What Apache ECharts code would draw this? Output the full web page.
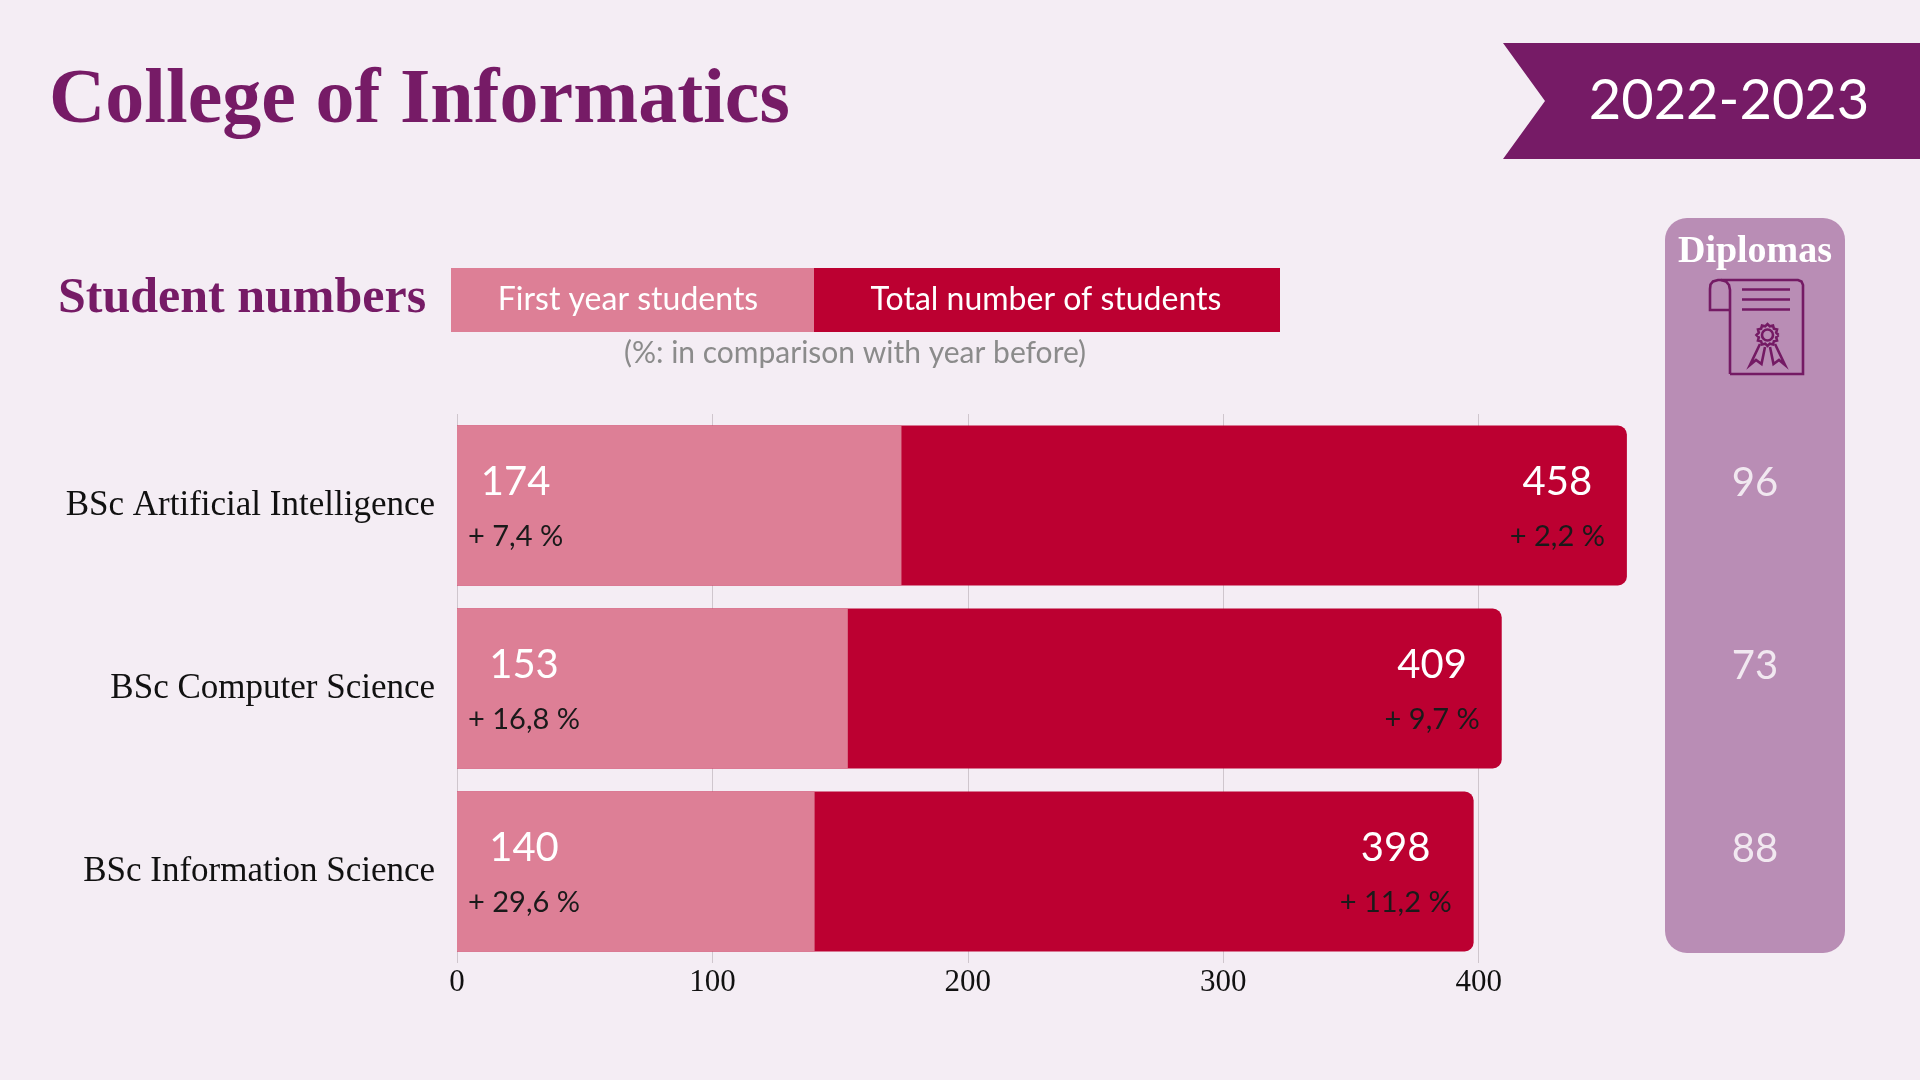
<!DOCTYPE html>
<html>
<head>
<meta charset="utf-8">
<title>College of Informatics</title>
<script src="https://cdn.jsdelivr.net/npm/echarts@6/dist/echarts.min.js"></script>
<style>
    html, body {margin: 0; padding: 0; background: #f4edf4;}
    #chart {width: 1920px; height: 1080px;}
</style>
</head>
<body>
<div id="chart"></div>
<script>
    // data
    var programmes = ['BSc Artificial Intelligence', 'BSc Computer Science', 'BSc Information Science'];
    var firstYear = [174, 153, 140];
    var firstYearChange = [7.4, 16.8, 29.6];
    var totalStudents = [458, 409, 398];
    var totalChange = [2.2, 9.7, 11.2];
    var diplomas = [96, 73, 88];
    var xTicks = [0, 100, 200, 300, 400];
    var seriesNames = ['First year students', 'Total number of students'];

    var serif = '"Liberation Serif", "DejaVu Serif", serif';
    var sans = 'Lato, "Open Sans", sans-serif';
    var purple = '#761b66', pink = '#dd7f96', red = '#bc0031', mauve = '#b98db5';

    function pct(v) {
        return '+ ' + String(v).replace('.', ',') + ' %';
    }

    function richLabel(values, changes) {
        return function (p) {
            return '{v|' + values[p.dataIndex] + '}\n{p|' + pct(changes[p.dataIndex]) + '}';
        };
    }

    var rich = {
        v: {fontFamily: sans, fontSize: 40, color: '#ffffff', lineHeight: 55, align: 'center'},
        p: {fontFamily: sans, fontSize: 29, color: '#1a1a1a', lineHeight: 55, align: 'center'}
    };

    // small scroll icon for the diplomas column
    function diplomaIcon() {
        var st = {stroke: '#741a64', lineWidth: 2.6, fill: null};
        var els = [
            {type: 'polyline', shape: {points: [[1730, 374], [1803, 374], [1803, 285], [1801.5, 281.5], [1798, 280], [1718, 280], [1713, 281.5], [1710.5, 284.5], [1710, 289], [1710, 310], [1730, 310]]}, style: st},
            {type: 'polyline', shape: {points: [[1730, 374], [1730, 290], [1729, 285], [1726, 281.5], [1721, 280]]}, style: st},
            {type: 'line', shape: {x1: 1742, y1: 289.5, x2: 1790, y2: 289.5}, style: st},
            {type: 'line', shape: {x1: 1742, y1: 299.5, x2: 1790, y2: 299.5}, style: st},
            {type: 'line', shape: {x1: 1742, y1: 309.5, x2: 1790, y2: 309.5}, style: st},
            {type: 'circle', shape: {cx: 1767.5, cy: 335, r: 5.5}, style: st},
            {type: 'polyline', shape: {points: [[1760, 344], [1750, 365], [1756, 360], [1761.5, 364], [1765, 347]]}, style: st},
            {type: 'polyline', shape: {points: [[1775, 344], [1785, 365], [1779, 360], [1773.5, 364], [1770, 347]]}, style: st}
        ];
        var pts = [];
        for (var i = 0; i <= 24; i++) {
            var a = i / 24 * Math.PI * 2;
            var r = i % 2 ? 9 : 11;
            pts.push([1767.5 + r * Math.cos(a), 335 + r * Math.sin(a)]);
        }
        els.push({type: 'polyline', shape: {points: pts}, style: st});
        return els;
    }

    var graphics = [
        {type: 'text', left: 49, top: 63, style: {text: 'College of Informatics', font: 'bold 78px ' + serif, fill: purple}},
        {type: 'polygon', shape: {points: [[1503, 43], [1920, 43], [1920, 159], [1503, 159], [1545, 101]]}, style: {fill: purple}},
        {type: 'text', x: 1729, y: 101, style: {text: '2022-2023', font: '56px ' + sans, fill: '#ffffff', align: 'center', verticalAlign: 'middle'}},
        {type: 'text', x: 58, y: 299, style: {text: 'Student numbers', font: 'bold 50px ' + serif, fill: purple, verticalAlign: 'middle'}},
        {type: 'rect', shape: {x: 451, y: 268, width: 363, height: 64}, style: {fill: pink}},
        {type: 'rect', shape: {x: 814, y: 268, width: 466, height: 64}, style: {fill: red}},
        {type: 'text', x: 628, y: 300, style: {text: seriesNames[0], font: '32px ' + sans, fill: '#ffffff', align: 'center', verticalAlign: 'middle'}},
        {type: 'text', x: 1046, y: 300, style: {text: seriesNames[1], font: '32px ' + sans, fill: '#ffffff', align: 'center', verticalAlign: 'middle'}},
        {type: 'text', x: 855, y: 353, style: {text: '(%: in comparison with year before)', font: '30px ' + sans, fill: '#8b8b8b', align: 'center', verticalAlign: 'middle'}},
        {type: 'rect', z: -10, shape: {x: 1665, y: 218, width: 180, height: 735, r: 22}, style: {fill: mauve}},
        {type: 'text', x: 1755, y: 252, style: {text: 'Diplomas', font: 'bold 38px ' + serif, fill: '#ffffff', align: 'center', verticalAlign: 'middle'}}
    ].concat(diplomaIcon());

    var myChart = echarts.init(document.getElementById('chart'));
    var option = {
        backgroundColor: '#f4edf4',
        animation: false,
        graphic: graphics,
        grid: [
            {left: 457, right: 288, top: 414, bottom: 117},
            {left: 1665, width: 180, top: 414, bottom: 117}
        ],
        xAxis: [
            {
                type: 'value', min: 0, max: 460, interval: 100,
                axisLine: {show: false}, axisTick: {show: false},
                axisLabel: {
                    margin: 4, fontFamily: serif, fontSize: 31, color: '#111111',
                    showMaxLabel: false,
                    formatter: function (v) { return xTicks.indexOf(v) >= 0 ? String(v) : ''; }
                },
                splitLine: {show: true, showMaxLine: false, lineStyle: {color: '#cfc6cd', width: 1}}
            },
            {gridIndex: 1, type: 'value', min: 0, max: 1, show: false}
        ],
        yAxis: [
            {
                type: 'category', data: programmes, inverse: true,
                axisLine: {show: false}, axisTick: {show: false},
                axisLabel: {margin: 22, fontFamily: serif, fontSize: 35, color: '#111111'}
            },
            {gridIndex: 1, type: 'category', data: programmes, inverse: true, show: false}
        ],
        series: [
            {
                name: seriesNames[1], type: 'bar', data: totalStudents, barWidth: 160,
                itemStyle: {color: red, borderRadius: [0, 9, 9, 0]},
                label: {show: true, position: 'insideRight', distance: 22, offset: [0, 4], formatter: richLabel(totalStudents, totalChange), rich: rich}
            },
            {
                name: seriesNames[0], type: 'bar', data: firstYear, barWidth: 160, barGap: '-100%',
                itemStyle: {color: pink},
                label: {show: true, position: 'insideLeft', distance: 11, offset: [0, 4], formatter: richLabel(firstYear, firstYearChange), rich: rich}
            },
            {
                name: 'Diplomas', type: 'scatter', xAxisIndex: 1, yAxisIndex: 1,
                symbolSize: 1, itemStyle: {color: 'transparent'},
                data: diplomas.map(function (d, i) { return [0.5, i, d]; }),
                label: {
                    show: true, position: 'inside', offset: [0, -22],
                    fontFamily: sans, fontSize: 40, color: '#ffffff',
                    formatter: function (p) { return p.value[2]; }
                }
            }
        ]
    };
    myChart.setOption(option);
</script>
</body>
</html>
